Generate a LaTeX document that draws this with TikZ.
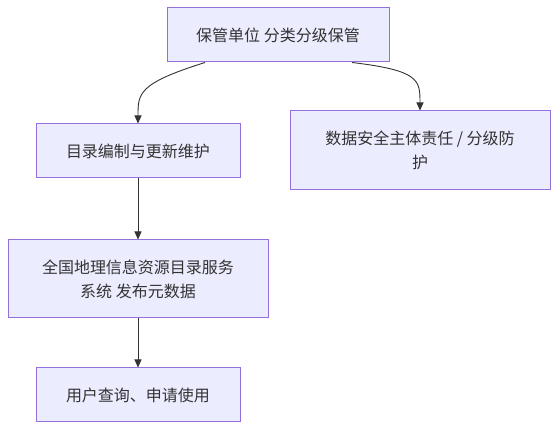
\documentclass[tikz,border=0pt]{standalone}
\usepackage{fontspec}
\setmainfont{Noto Sans CJK SC}
\usetikzlibrary{arrows.meta,calc}
\definecolor{boxfill}{HTML}{ECECFF}
\definecolor{boxline}{HTML}{9370DB}
\definecolor{txt}{HTML}{333333}
\begin{document}
\begin{tikzpicture}[x=1pt,y=-1pt,
  box/.style={draw=boxline,fill=boxfill,line width=1pt,text=txt,
    font=\fontsize{16}{24}\selectfont,align=center,inner sep=0pt},
  edge/.style={draw=txt,line width=0.9pt,-{Triangle[length=8pt,width=7pt]}}]
\useasboundingbox[fill=white] (0,0) rectangle (558,430);
\node[box,minimum width=222pt,minimum height=54pt] (A) at (278,35) {保管单位 分类分级保管};
\node[box,minimum width=204pt,minimum height=54pt] (B) at (138,151) {目录编制与更新维护};
\node[box,minimum width=260pt,minimum height=79pt] (C) at (420,150.5) {数据安全主体责任 / 分级防\\护};
\node[box,minimum width=260pt,minimum height=78pt] (D) at (138,279) {全国地理信息资源目录服务\\系统 发布元数据};
\node[box,minimum width=204pt,minimum height=54pt] (E) at (138,395) {用户查询、申请使用};
\draw[edge] ($(A.south)+(-73,0)$) .. controls ($(B.north)+(0,-40)$) and ($(B.north)+(0,-30)$) .. (B.north);
\draw[edge] ($(A.south)+(74,0)$) .. controls ($(C.north)+(0,-40)$) and ($(C.north)+(0,-30)$) .. (C.north);
\draw[edge] (B.south) -- (D.north);
\draw[edge] (D.south) -- (E.north);
\end{tikzpicture}
\end{document}
